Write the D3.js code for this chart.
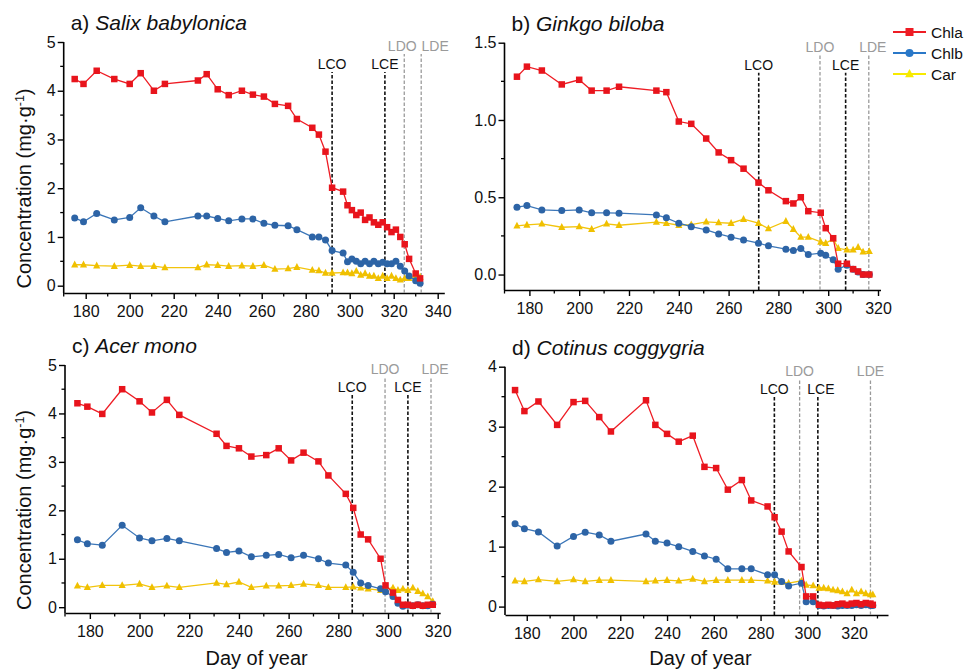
<!DOCTYPE html>
<html><head><meta charset="utf-8">
<script src="https://cdn.jsdelivr.net/npm/d3@7"></script>
<style>
body{margin:0;background:#fff}
svg{display:block;font-family:"Liberation Sans",Arial,Helvetica,sans-serif}
</style>
</head><body>
<svg id="chart" width="974" height="671"></svg>
<script>
// ---- Pigment concentrations (mg·g-1) by day of year, four species ----
const seriesNames = ["Chla", "Chlb", "Car"];

const daysA = [175,179,185,193,200,205,211,216,231,235,240,245,251,256,261,266,272,276,283,286,289,292,297,299,301,303,305,307,309,311,313,315,317,319,321,323,325,327,330,332];
const chlaA = [4.24,4.14,4.41,4.24,4.14,4.36,4.00,4.14,4.21,4.34,4.03,3.91,4.00,3.92,3.88,3.73,3.69,3.42,3.24,3.10,2.75,2.01,1.93,1.65,1.55,1.45,1.50,1.35,1.40,1.30,1.25,1.30,1.20,1.10,1.15,1.00,0.85,0.55,0.25,0.15];
const chlbA = [1.39,1.31,1.48,1.35,1.40,1.60,1.43,1.31,1.43,1.43,1.38,1.33,1.37,1.37,1.28,1.24,1.23,1.15,1.00,1.00,0.94,0.72,0.67,0.49,0.55,0.50,0.45,0.50,0.45,0.50,0.45,0.48,0.45,0.45,0.50,0.40,0.30,0.20,0.10,0.05];
const carA  = [0.43,0.43,0.41,0.40,0.42,0.40,0.40,0.37,0.37,0.43,0.42,0.40,0.41,0.40,0.42,0.34,0.35,0.38,0.32,0.31,0.26,0.26,0.27,0.27,0.25,0.30,0.22,0.25,0.20,0.20,0.15,0.20,0.15,0.20,0.15,0.12,0.15,0.15,0.20,0.18];

const daysB = [175,179,185,193,200,205,211,216,231,235,240,245,251,256,261,266,272,276,283,286,289,292,297,299,302,304,307.5,310,312,314,316.5];
const chlaB = [1.28,1.345,1.32,1.23,1.26,1.19,1.19,1.215,1.19,1.18,0.99,0.975,0.88,0.79,0.74,0.685,0.595,0.545,0.475,0.46,0.50,0.41,0.40,0.30,0.235,0.07,0.07,0.035,0.02,0.0,0.0];
const chlbB = [0.436,0.446,0.418,0.414,0.418,0.399,0.399,0.397,0.386,0.367,0.332,0.31,0.289,0.263,0.242,0.224,0.203,0.186,0.164,0.155,0.168,0.129,0.138,0.125,0.095,0.035,0.06,0.035,0.017,0.0,0.0];
const carB  = [0.315,0.321,0.328,0.306,0.31,0.293,0.328,0.319,0.339,0.332,0.319,0.323,0.341,0.336,0.332,0.358,0.332,0.297,0.345,0.293,0.242,0.242,0.211,0.203,0.229,0.17,0.16,0.16,0.177,0.147,0.15];

const daysC = [175,179,185,193,200,205,211,216,231,235,240,245,251,256,261,266,272,276,283,286,289,292,297,299,302,304,306,308,310,312,314,316,318];
const chlaC = [4.21,4.14,3.99,4.50,4.25,4.02,4.28,3.97,3.58,3.33,3.28,3.11,3.14,3.28,3.03,3.19,3.01,2.72,2.34,2.05,1.50,1.40,1.00,0.45,0.30,0.15,0.05,0.05,0.03,0.05,0.03,0.05,0.05];
const chlbC = [1.39,1.31,1.28,1.69,1.43,1.37,1.42,1.37,1.21,1.13,1.16,1.04,1.07,1.09,1.02,1.07,1.00,0.91,0.87,0.72,0.50,0.45,0.38,0.32,0.22,0.08,0.02,0.04,0.03,0.05,0.03,0.03,0.06];
const carC  = [0.44,0.41,0.45,0.45,0.48,0.41,0.44,0.41,0.50,0.47,0.52,0.41,0.44,0.44,0.45,0.48,0.45,0.41,0.41,0.42,0.40,0.38,0.35,0.38,0.40,0.35,0.38,0.35,0.40,0.33,0.28,0.22,0.12];

const daysD = [175,179,185,193,200,205,211,216,231,235,240,245,251,256,261,266,272,276,283,286,289,292,297.5,299.5,302.5,305,307,309,311,313,315,317,319,321,323,325,327,328];
const chlaD = [3.61,3.26,3.42,3.03,3.41,3.43,3.16,2.92,3.44,3.03,2.88,2.75,2.85,2.33,2.31,1.95,2.11,1.77,1.67,1.49,1.25,0.92,0.66,0.17,0.17,0.03,0.02,0.03,0.02,0.04,0.05,0.03,0.05,0.06,0.04,0.06,0.05,0.03];
const chlbD = [1.38,1.30,1.245,1.01,1.17,1.24,1.195,1.09,1.21,1.09,1.06,1.00,0.92,0.845,0.79,0.63,0.63,0.63,0.53,0.53,0.42,0.345,0.39,0.08,0.08,0.02,0.01,0.02,0.02,0.01,0.02,0.02,0.02,0.03,0.02,0.03,0.02,0.02];
const carD  = [0.43,0.42,0.45,0.42,0.45,0.42,0.44,0.44,0.42,0.43,0.44,0.43,0.46,0.42,0.44,0.44,0.44,0.44,0.43,0.41,0.41,0.39,0.43,0.36,0.35,0.31,0.31,0.30,0.28,0.27,0.25,0.22,0.28,0.22,0.25,0.22,0.20,0.20];

// Leaf phenology phases (vertical markers)
const phaseNames = ["LCO", "LCE", "LDO", "LDE"];
const phaseDaysA = [292, 316, 324.8, 332.5];
const phaseDaysB = [272.1, 307, 296.7, 316.3];
const phaseDaysC = [285.6, 308, 298.8, 317.3];
const phaseDaysD = [285.9, 304.5, 296.7, 327];

const xTickValues = [180,200,220,240,260,280,300,320,340];

// ---- layout ----
const panels = [
  {tag:"a) ", species:"Salix babylonica",   days:daysA, vals:[chlaA,chlbA,carA], phases:phaseDaysA, labShift:[0,0,-2,14],
   xDom:[170,343], xRng:[63.7,444.3], yDom:[-0.15,5],  yRng:[293,42],  yMajor:[0,1,2,3,4,5], yFmt:d3.format("d"), yMinorStep:0.5},
  {tag:"b) ", species:"Ginkgo biloba",      days:daysB, vals:[chlaB,chlbB,carB], phases:phaseDaysB, labShift:[0,0,0,4],
   xDom:[170,321], xRng:[504.5,880.5], yDom:[-0.1,1.5], yRng:[290,42.7], yMajor:[0,0.5,1,1.5], yFmt:d3.format(".1f"), yMinorStep:0.25},
  {tag:"c) ", species:"Acer mono",          days:daysC, vals:[chlaC,chlbC,carC], phases:phaseDaysC, labShift:[0,0,0,4],
   xDom:[170,321], xRng:[65,440.2], yDom:[-0.12,5], yRng:[613,365], yMajor:[0,1,2,3,4,5], yFmt:d3.format("d"), yMinorStep:0.5},
  {tag:"d) ", species:"Cotinus coggygria",  days:daysD, vals:[chlaD,chlbD,carD], phases:phaseDaysD, labShift:[0,3,0,0],
   xDom:[170.7,334.5], xRng:[505,888], yDom:[-0.14,4], yRng:[615,366.7], yMajor:[0,1,2,3,4], yFmt:d3.format("d"), yMinorStep:0.5}
];

const lineColors   = ["#ee1c24", "#3b76b8", "#f2c40c"];
const markerColors = ["#e8141c", "#2d64a6", "#f0c000"];
const legendColors = ["#ee1c24", "#2a78c8", "#f7ea00"];
const phaseStyle = {LCO:"#111", LCE:"#111", LDO:"#9a9a9a", LDE:"#9a9a9a"};

const svg = d3.select("#chart");

function marker(sel, type, color, size) {
  if (type === 0) {
    sel.append("rect").attr("x", -size/2).attr("y", -size/2).attr("width", size).attr("height", size).attr("fill", color);
  } else if (type === 1) {
    sel.append("circle").attr("r", size/2).attr("fill", color);
  } else {
    const s = size * 1.1;
    sel.append("path").attr("d", `M0,${-s*0.58}L${s/2},${s*0.38}L${-s/2},${s*0.38}Z`).attr("fill", color);
  }
}

panels.forEach((p, pi) => {
  const g = svg.append("g");
  const x = d3.scaleLinear().domain(p.xDom).range(p.xRng);
  const y = d3.scaleLinear().domain(p.yDom).range(p.yRng);
  const left = p.xRng[0], bottom = p.yRng[0], top = y(p.yMajor[p.yMajor.length-1]);

  // x axis: labelled every 20 days, minor ticks every 10
  const xMajor = xTickValues.filter(v => v >= p.xDom[0] && v <= p.xDom[1]);
  const xMinor = d3.range(170, p.xDom[1] + 0.01, 10).filter(v => v >= p.xDom[0] && !xMajor.includes(v));
  const xAxis = g.append("g").attr("transform", `translate(0,${bottom})`)
    .call(d3.axisBottom(x).tickValues(xMajor).tickSize(6).tickSizeOuter(0).tickFormat(d3.format("d")));
  xAxis.select(".domain").attr("stroke", "#000").attr("stroke-width", 1.6);
  xAxis.selectAll(".tick line").attr("stroke-width", 1.4);
  xAxis.selectAll(".tick text").attr("font-size", 16).attr("fill", "#111").attr("dy", "0.85em").attr("y", 10);
  g.append("g").attr("transform", `translate(0,${bottom})`).selectAll("line").data(xMinor).join("line")
    .attr("x1", d => x(d)).attr("x2", d => x(d)).attr("y1", 0).attr("y2", 3.5).attr("stroke", "#000").attr("stroke-width", 1.3);

  // y axis
  const yMax = p.yMajor[p.yMajor.length-1];
  const yMinor = d3.range(0, yMax + 1e-6, p.yMinorStep).filter(v => !p.yMajor.some(m => Math.abs(m - v) < 1e-6));
  const yAxis = g.append("g").attr("transform", `translate(${left},0)`)
    .call(d3.axisLeft(y).tickValues(p.yMajor).tickSize(6).tickSizeOuter(0).tickFormat(p.yFmt));
  yAxis.select(".domain").attr("d", `M0,${bottom}V${top}`).attr("stroke", "#000").attr("stroke-width", 1.6);
  yAxis.selectAll(".tick line").attr("stroke-width", 1.4);
  yAxis.selectAll(".tick text").attr("font-size", 16).attr("fill", "#111").attr("x", -8);
  g.append("g").attr("transform", `translate(${left},0)`).selectAll("line").data(yMinor).join("line")
    .attr("x1", 0).attr("x2", -3.5).attr("y1", d => y(d)).attr("y2", d => y(d)).attr("stroke", "#000").attr("stroke-width", 1.3);

  // title
  const t = g.append("text").attr("x", left + 7).attr("y", top - 12).attr("font-size", 21).attr("fill", "#111");
  t.append("tspan").text(p.tag);
  t.append("tspan").attr("font-style", "italic").text(p.species);

  // y axis title, left column only
  if (pi % 2 === 0) {
    const yt = g.append("text").attr("transform", `translate(${31},${(top + bottom) / 2 + 21}) rotate(-90)`)
      .attr("text-anchor", "middle").attr("font-size", 20).attr("fill", "#111");
    yt.append("tspan").text("Concentration (mg·g");
    yt.append("tspan").attr("dy", -7).attr("font-size", 12.5).text("-1");
    yt.append("tspan").attr("dy", 7).text(")");
  }

  // x axis title for the bottom row
  if (pi >= 2) {
    g.append("text").attr("x", (p.xRng[0] + p.xRng[1]) / 2 + 4).attr("y", 665).attr("text-anchor", "middle")
      .attr("font-size", 20).attr("fill", "#111").text("Day of year");
  }

  // phase markers
  phaseNames.forEach((name, k) => {
    const dx = x(p.phases[k]);
    const dark = name === "LCO" || name === "LCE";
    const labY = dark ? top + 27 : top + 9;
    g.append("line").attr("x1", dx).attr("x2", dx).attr("y1", bottom).attr("y2", labY + 3)
      .attr("stroke", phaseStyle[name]).attr("stroke-width", dark ? 1.6 : 1.3).attr("stroke-dasharray", "3.5,2");
    g.append("text").attr("x", dx + p.labShift[k]).attr("y", labY).attr("text-anchor", "middle").attr("font-size", 14)
      .attr("fill", dark ? "#111" : "#9a9a9a").text(name);
  });

  // series: Car first so Chla ends on top
  [2, 1, 0].forEach(si => {
    const pts = p.days.map((d, i) => [d, p.vals[si][i]]);
    g.append("path").datum(pts)
      .attr("d", d3.line().x(d => x(d[0])).y(d => y(d[1])))
      .attr("fill", "none").attr("stroke", lineColors[si]).attr("stroke-width", 1.3);
    g.append("g").selectAll("g").data(pts).join("g")
      .attr("transform", d => `translate(${x(d[0])},${y(d[1])})`)
      .each(function() { marker(d3.select(this), si, markerColors[si], si === 1 ? 7 : 6.5); });
  });
});

// legend
const lg = svg.append("g");
seriesNames.forEach((name, i) => {
  const yy = 32 + i * 21;
  lg.append("line").attr("x1", 893).attr("x2", 926).attr("y1", yy).attr("y2", yy).attr("stroke", legendColors[i]).attr("stroke-width", 1.8);
  const m = lg.append("g").attr("transform", `translate(909.5,${yy})`);
  marker(m, i, legendColors[i], 8);
  lg.append("text").attr("x", 931).attr("y", yy + 5.5).attr("font-size", 15.5).attr("fill", "#111").text(name);
});
</script>
</body></html>
